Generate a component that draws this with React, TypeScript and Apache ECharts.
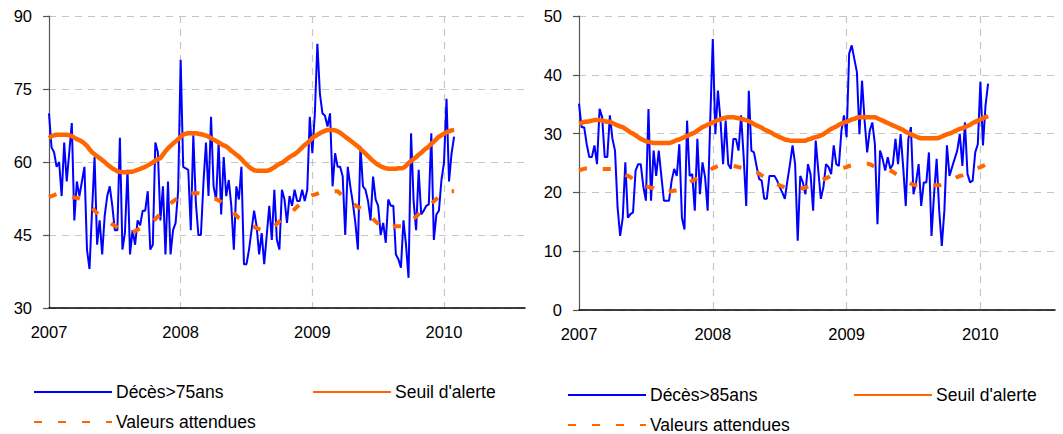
import React, { useEffect, useRef } from "react";
import * as echarts from "echarts";

const yearLabels = ["2007", "2008", "2009", "2010"];
const weeksPerYear = 52;
const leftWeekCount = 189;
const rightWeekCount = 186;

const leftDeaths = [
  70, 63, 62, 59, 60, 53, 64, 56, 62, 68,
  48, 56, 53, 56, 59, 42, 38, 50, 61, 43,
  48, 41, 49, 53, 55, 51, 46, 46, 65, 42,
  45.5, 58.4, 41, 46, 43, 48, 47, 50, 50, 54,
  42, 43, 64, 62, 48, 55, 41, 56, 41, 46,
  47.5, 54, 81, 59, 58.7, 58.4, 46, 65.5, 51.6, 45,
  45, 55.7, 64, 53, 69.3, 55, 52.3, 64, 49.2, 61,
  53, 56.3, 51, 42, 55, 52.3, 59, 39, 39, 42,
  46, 50, 46.8, 41, 45.4, 39, 45, 51, 44, 54.3,
  44, 42, 54.3, 52.3, 47.5, 53, 51, 54.3, 52, 52,
  54.3, 52, 54.3, 69.3, 61.8, 70, 84.3, 74, 70, 69.5,
  67.3, 70, 55, 61.8, 59, 59, 57, 45, 59, 55,
  51.6, 47.5, 42, 63.2, 55, 54.3, 52, 48, 57, 52.3,
  51, 45, 47.5, 43.4, 52.3, 51, 51, 41, 40, 38.3,
  48, 43, 36.2, 65.9, 52, 46, 58.4, 49.2, 50, 51,
  51.3, 65.9, 44, 49.2, 50, 56.3, 59.8, 73, 56, 61.8, 65.2,
];

const leftThreshold = [
  64.9, 65.3, 65.5, 65.6, 65.6, 65.6, 65.6, 65.6, 65.5, 65.3,
  65.0, 64.7, 64.5, 64.2, 63.8, 63.3, 62.6, 62.0, 61.6, 61.2,
  60.8, 60.4, 60.0, 59.5, 59.1, 58.7, 58.4, 58.1, 58.0, 57.9,
  57.9, 57.9, 58.0, 58.0, 58.2, 58.4, 58.6, 58.8, 59.0, 59.3,
  59.6, 59.9, 60.3, 60.6, 60.8, 61.5, 62.2, 62.8, 63.3, 63.8,
  64.2, 64.7, 65.2, 65.6, 65.8, 65.9, 65.9, 65.9, 65.9, 65.8,
  65.7, 65.6, 65.4, 65.2, 64.9, 64.6, 64.3, 64.0, 63.7, 63.4,
  63.2, 62.8, 62.3, 61.9, 61.5, 61.1, 60.6, 60.0, 59.5, 59.0,
  58.6, 58.3, 58.2, 58.2, 58.2, 58.2, 58.2, 58.3, 58.6, 58.9,
  59.3, 59.6, 59.8, 60.2, 60.6, 61.0, 61.3, 61.6, 62.0, 62.5,
  63.0, 63.5, 63.9, 64.4, 64.9, 65.3, 65.6, 65.9, 66.2, 66.4,
  66.6, 66.6, 66.6, 66.5, 66.3, 66.0, 65.6, 65.2, 64.8, 64.4,
  64.0, 63.6, 63.2, 62.7, 62.2, 61.7, 61.2, 60.7, 60.2, 59.8,
  59.4, 59.1, 58.9, 58.7, 58.6, 58.6, 58.6, 58.6, 58.7, 58.7,
  58.8, 59.2, 59.8, 60.2, 60.6, 61.0, 61.5, 61.9, 62.4, 62.8,
  63.2, 63.7, 64.2, 64.7, 65.2, 65.5, 65.8, 66.1, 66.3, 66.5, 66.6,
];

const leftExpected = [
  52.8, 53.0, 53.2, 53.4, 53.4, 53.3, 53.2, 53.1, 53.0, 52.8,
  52.7, 52.6, 52.5, 52.3, 52.0, 51.6, 51.2, 50.6, 50.0, 49.5,
  49.2, 48.8, 48.4, 48.0, 47.6, 47.2, 46.9, 46.6, 46.3, 46.0,
  45.8, 45.6, 45.5, 45.6, 45.8, 46.1, 46.4, 46.7, 47.0, 47.3,
  47.6, 47.8, 48.3, 48.8, 49.3, 49.8, 50.4, 51.0, 51.5, 51.9,
  52.3, 52.7, 53.0, 53.3, 53.5, 53.6, 53.6, 53.6, 53.6, 53.6,
  53.5, 53.3, 53.1, 52.9, 52.7, 52.5, 52.4, 52.1, 51.8, 51.4,
  51.0, 50.5, 50.0, 49.5, 49.0, 48.5, 48.2, 47.9, 47.6, 47.3,
  47.0, 46.7, 46.4, 46.2, 46.0, 46.0, 46.0, 46.0, 46.3, 46.8,
  47.3, 47.8, 48.3, 48.8, 49.2, 49.5, 49.8, 50.3, 50.8, 51.3,
  51.8, 52.5, 52.8, 53.0, 53.2, 53.3, 53.5, 53.7, 53.8, 53.9,
  54.0, 54.0, 54.0, 54.0, 54.0, 53.5, 53.0, 52.5, 52.0, 51.7,
  51.4, 51.1, 50.8, 50.5, 50.3, 49.8, 49.3, 48.8, 48.3, 47.8,
  47.3, 46.8, 46.4, 46.4, 46.5, 46.6, 46.7, 46.8, 46.8, 46.8,
  46.8, 46.8, 47.3, 47.8, 48.3, 48.8, 49.3, 49.9, 50.3, 50.7,
  51.1, 51.4, 51.9, 52.4, 52.9, 53.3, 53.7, 54.0, 54.0, 54.0, 54.0,
];

const rightDeaths = [
  35.1, 31.1, 31.1, 28.2, 26, 26, 28, 24.8, 34.2, 32.8,
  26, 26, 33.1, 29.1, 27.1, 17.4, 12.6, 15.7, 25.1, 15.7,
  16.3, 16.6, 23.7, 24.8, 24.8, 21, 18.6, 34.2, 18.6, 27.1,
  22.8, 27.1, 22.8, 18.6, 18.6, 18.6, 22, 24, 22.8, 28.2,
  15.7, 13.7, 32.2, 22.8, 23.1, 16.9, 29.1, 19.7, 25.1, 22.6,
  16.9, 32.2, 46.1, 29.9, 37.3, 32.2, 24.8, 32.2, 24.8, 24,
  29.1, 29.1, 27.1, 33.1, 26, 17.7, 37.3, 27.1, 26.8, 24.5,
  22.3, 22, 18.9, 18.9, 22.8, 22.8, 22.8, 22, 20.9, 20,
  18.9, 22, 24.8, 28, 24.8, 11.8, 22.8, 21.7, 19.7, 24.8,
  23.1, 16.9, 28.8, 23.7, 18.9, 20.9, 24.8, 24.3, 23.1, 28,
  24.8, 24.5, 30.5, 33.1, 29.4, 43.6, 45, 42.7, 40.5, 29.9,
  39, 32.2, 26.8, 30.5, 31.9, 28.2, 14.6, 27.1, 25.7, 23.7,
  26, 24, 24.8, 29.1, 24.8, 29.9, 24.3, 17.7, 29.1, 31.1,
  19.7, 21.7, 24.8, 17.7, 21.7, 21.7, 26.8, 12.6, 19.7, 25.7,
  16.9, 10.9, 16.9, 28, 22.8, 24.3, 25.7, 27.1, 29.9, 24.5,
  31.9, 23.1, 21.7, 22, 26.8, 28.2, 38.8, 28, 34.8, 38.5,
];

const rightThreshold = [
  31.7, 31.8, 32.0, 32.0, 32.1, 32.2, 32.3, 32.3, 32.3, 32.2,
  32.1, 32.0, 32.0, 31.8, 31.6, 31.4, 31.2, 31.1, 30.8, 30.5,
  30.2, 30.0, 29.7, 29.4, 29.1, 28.9, 28.7, 28.6, 28.5, 28.4,
  28.4, 28.4, 28.4, 28.4, 28.4, 28.4, 28.5, 28.7, 28.9, 29.0,
  29.2, 29.4, 29.6, 29.8, 30.0, 30.2, 30.5, 30.8, 31.1, 31.3,
  31.5, 31.7, 31.9, 32.1, 32.3, 32.4, 32.6, 32.7, 32.8, 32.8,
  32.8, 32.7, 32.6, 32.5, 32.4, 32.3, 32.1, 31.9, 31.6, 31.4,
  31.2, 31.0, 30.7, 30.5, 30.3, 30.1, 29.8, 29.6, 29.4, 29.2,
  29.0, 28.9, 28.8, 28.8, 28.8, 28.8, 28.8, 28.8, 28.8, 29.0,
  29.1, 29.3, 29.4, 29.5, 29.7, 29.9, 30.2, 30.5, 30.8, 31.0,
  31.2, 31.5, 31.7, 31.9, 32.0, 32.2, 32.4, 32.5, 32.7, 32.8,
  32.8, 32.8, 32.8, 32.8, 32.8, 32.8, 32.6, 32.4, 32.2, 32.0,
  31.8, 31.6, 31.4, 31.2, 31.0, 30.8, 30.6, 30.3, 30.1, 29.9,
  29.7, 29.5, 29.3, 29.2, 29.2, 29.2, 29.2, 29.2, 29.2, 29.2,
  29.3, 29.5, 29.7, 29.9, 30.0, 30.2, 30.4, 30.6, 30.8, 30.9,
  31.1, 31.3, 31.5, 31.8, 32.0, 32.2, 32.4, 32.6, 32.8, 33.0,
];

const rightExpected = [
  23.8, 23.9, 24.0, 24.1, 24.1, 24.1, 24.1, 24.0, 24.0, 24.0,
  24.0, 24.0, 24.0, 24.0, 23.8, 23.6, 23.4, 23.2, 23.0, 22.8,
  22.6, 22.2, 21.8, 21.6, 21.4, 21.2, 21.0, 20.9, 20.8, 20.7,
  20.4, 20.1, 20.0, 20.0, 20.0, 20.1, 20.2, 20.3, 20.4, 20.7,
  21.0, 21.2, 21.4, 21.7, 22.0, 22.2, 22.4, 22.6, 22.9, 23.2,
  23.5, 23.8, 24.1, 24.3, 24.5, 24.6, 24.6, 24.6, 24.6, 24.6,
  24.5, 24.4, 24.3, 24.2, 24.1, 24.0, 24.0, 23.8, 23.7, 23.5,
  23.2, 22.9, 22.6, 22.3, 22.0, 21.8, 21.6, 21.4, 21.2, 21.0,
  20.9, 20.8, 20.7, 20.7, 20.7, 20.7, 20.7, 20.7, 20.8, 21.0,
  21.2, 21.4, 21.6, 21.8, 22.0, 22.2, 22.4, 22.6, 22.9, 23.2,
  23.5, 23.8, 24.1, 24.2, 24.3, 24.5, 24.6, 24.7, 24.8, 24.8,
  24.9, 24.9, 24.9, 24.8, 24.6, 24.3, 24.2, 24.1, 24.0, 23.9,
  23.8, 23.7, 23.5, 23.2, 22.9, 22.6, 22.4, 22.1, 21.8, 21.5,
  21.3, 21.2, 21.2, 21.2, 21.2, 21.2, 21.2, 21.2, 21.2, 21.2,
  21.2, 21.4, 21.6, 21.8, 22.0, 22.2, 22.4, 22.6, 22.8, 22.9,
  23.1, 23.3, 23.5, 23.7, 23.9, 24.1, 24.3, 24.5, 24.7, 24.9,
];

const leftNames = ["Décès>75ans", "Seuil d'alerte", "Valeurs attendues"];
const rightNames = ["Décès>85ans", "Seuil d'alerte ", "Valeurs attendues "];

const FONT = "'Liberation Sans', Arial, sans-serif";
const BLUE = "#0000ff";
const ORANGE = "#ff6600";
const GRID_COLOR = "#c6c6c6";

function makeCategories(n: number) {
  return Array.from({ length: n }, (_, i) => String(i));
}

function xAxisFor(gridIndex: number, n: number) {
  return {
    type: "category",
    gridIndex,
    data: makeCategories(n),
    boundaryGap: false,
    axisLine: { show: true, lineStyle: { color: "#000", width: 1.5 } },
    axisTick: { show: false },
    axisLabel: {
      interval: (i: number) => i % weeksPerYear === 0,
      formatter: (_v: string, i: number) =>
        i % weeksPerYear === 0 ? yearLabels[i / weeksPerYear] ?? "" : "",
      margin: 15,
      color: "#000",
      fontSize: 16.5,
      fontFamily: FONT,
    },
    splitLine: {
      show: true,
      interval: (i: number) => i % weeksPerYear === 0 && i > 0,
      lineStyle: { color: GRID_COLOR, type: [7, 6], width: 1.2 },
    },
  };
}

function yAxisFor(gridIndex: number, min: number, max: number, interval: number) {
  return {
    type: "value",
    gridIndex,
    min,
    max,
    interval,
    axisLine: { show: true, lineStyle: { color: "#555", width: 1.2 } },
    axisTick: { show: true, length: 6, lineStyle: { color: "#555", width: 1.2 } },
    axisLabel: { margin: 17, color: "#000", fontSize: 16.5, fontFamily: FONT },
    splitLine: { show: true, lineStyle: { color: GRID_COLOR, type: [7, 6], width: 1.2 } },
  };
}

function seriesFor(idx: number, names: string[], deaths: number[], thr: number[], exp: number[]) {
  return [
    {
      name: names[0],
      type: "line",
      xAxisIndex: idx,
      yAxisIndex: idx,
      data: deaths,
      symbol: "none",
      lineStyle: { color: BLUE, width: 2 },
      itemStyle: { color: BLUE },
      z: 2,
    },
    {
      name: names[1],
      type: "line",
      xAxisIndex: idx,
      yAxisIndex: idx,
      data: thr,
      symbol: "none",
      lineStyle: { color: ORANGE, width: 4.5 },
      itemStyle: { color: ORANGE },
      z: 3,
    },
    {
      name: names[2],
      type: "line",
      xAxisIndex: idx,
      yAxisIndex: idx,
      data: exp,
      symbol: "none",
      lineStyle: { color: ORANGE, width: 4, type: [8, 16] },
      itemStyle: { color: ORANGE },
      z: 4,
    },
  ];
}

function legendItem(name: string, left: number, top: number) {
  return {
    data: [name],
    left,
    top,
    orient: "horizontal",
    itemWidth: 78,
    itemHeight: 14,
    itemGap: 0,
    selectedMode: false,
    padding: 0,
    itemStyle: { opacity: 0 },
    formatter: (n: string) => n.trim(),
    textStyle: { color: "#000", fontSize: 17.5, fontFamily: FONT, padding: [0, 0, 0, -1] },
  };
}

export default function App() {
  const ref = useRef<HTMLDivElement>(null);

  useEffect(() => {
    if (!ref.current) return;
    const chart = echarts.init(ref.current, undefined, { renderer: "svg" });
    chart.setOption({
      animation: false,
      backgroundColor: "#fff",
      grid: [
        { left: 49, top: 16, width: 476, height: 292 },
        { left: 579, top: 16, width: 476, height: 294 },
      ],
      xAxis: [xAxisFor(0, leftWeekCount), xAxisFor(1, rightWeekCount)],
      yAxis: [yAxisFor(0, 30, 90, 15), yAxisFor(1, 0, 50, 10)],
      legend: [
        legendItem(leftNames[0], 33, 383),
        legendItem(leftNames[1], 312, 383),
        legendItem(leftNames[2], 33, 413),
        legendItem(rightNames[0], 567, 386),
        legendItem(rightNames[1], 853, 386),
        legendItem(rightNames[2], 567, 416),
      ],
      series: [
        ...seriesFor(0, leftNames, leftDeaths, leftThreshold, leftExpected),
        ...seriesFor(1, rightNames, rightDeaths, rightThreshold, rightExpected),
      ],
    });
    return () => chart.dispose();
  }, []);

  return (
    <div
      ref={ref}
      style={{ position: "fixed", left: 0, top: 0, width: 1063, height: 434, background: "#fff" }}
    />
  );
}
